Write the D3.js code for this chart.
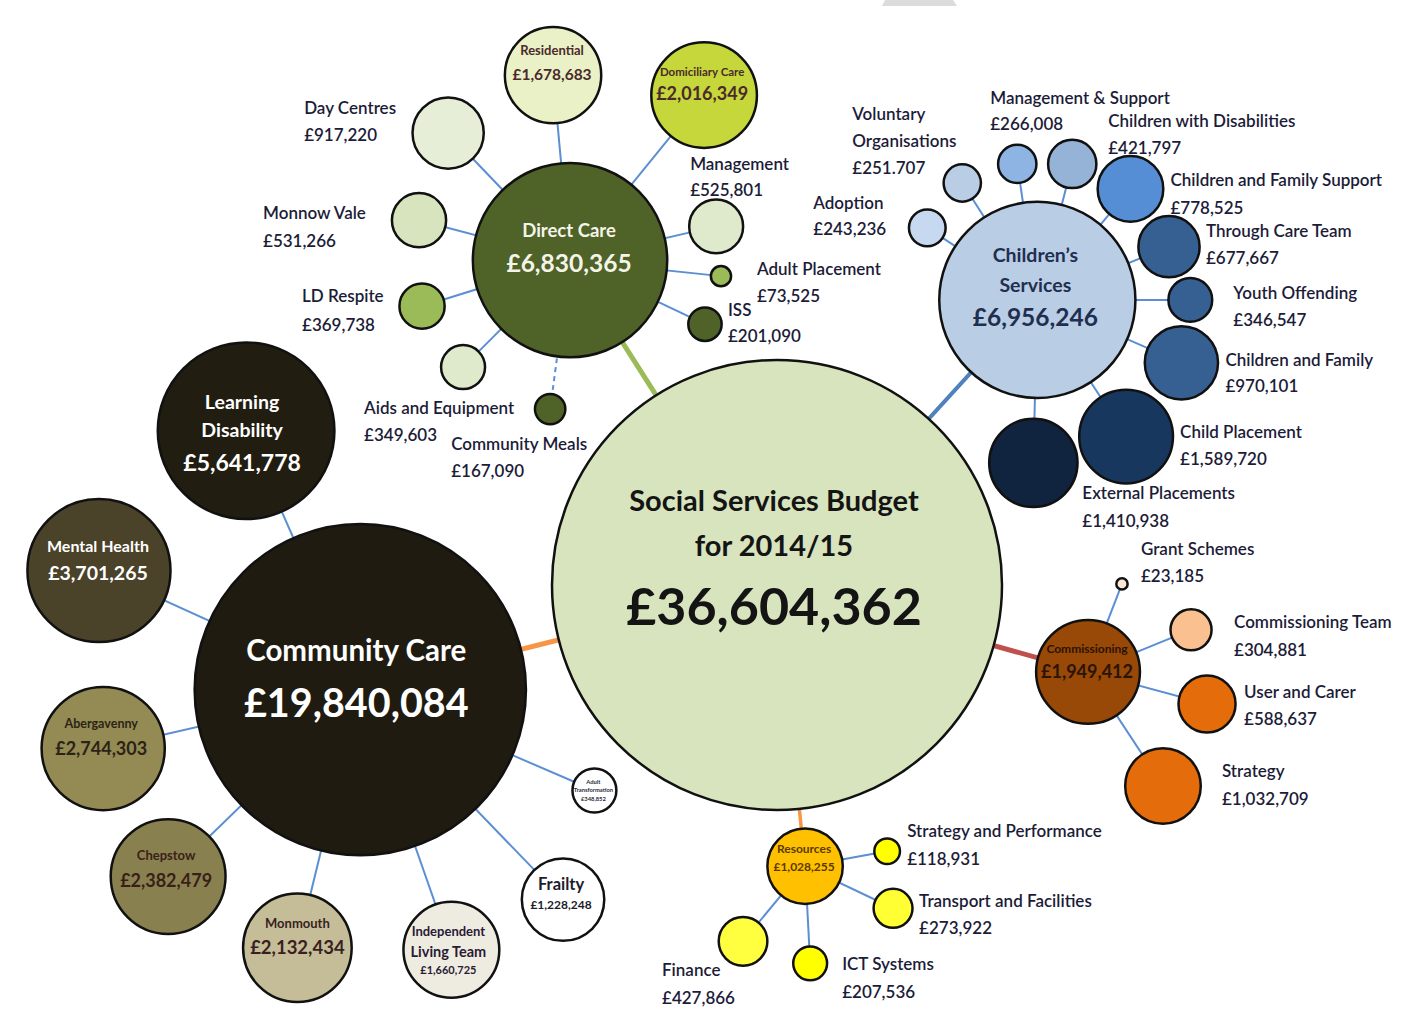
<!DOCTYPE html>
<html>
<head>
<meta charset="utf-8">
<script src="https://cdn.jsdelivr.net/npm/d3@7"></script>
<style>
  html, body { margin: 0; padding: 0; background: #fff; }
  svg { display: block; }
</style>
</head>
<body>
<svg id="chart" width="1404" height="1021"></svg>
<script>
// ---------------- Budget data (£, 2014/15) ----------------
const budgetTitle = "Social Services Budget for 2014/15";
const services = ["Community Care", "Direct Care", "Children’s Services", "Commissioning", "Resources"];

const communityCareTeams = ["Learning Disability", "Mental Health", "Abergavenny", "Chepstow", "Monmouth",
  "Independent Living Team", "Frailty", "Adult Transformation"];
const communityCareBudgets = [5641778, 3701265, 2744303, 2382479, 2132434, 1660725, 1228248, 348852];

const directCareTeams = ["Residential", "Domiciliary Care", "Day Centres", "Monnow Vale", "LD Respite",
  "Aids and Equipment", "Community Meals", "ISS", "Adult Placement", "Management"];
const directCareBudgets = [1678683, 2016349, 917220, 531266, 369738, 349603, 167090, 201090, 73525, 525801];

const childrensTeams = ["Adoption", "Voluntary Organisations", "Management & Support", "Children with Disabilities",
  "Children and Family Support", "Through Care Team", "Youth Offending", "Children and Family",
  "Child Placement", "External Placements"];
const childrensBudgets = [243236, 251707, 266008, 421797, 778525, 677667, 346547, 970101, 1589720, 1410938];

const commissioningTeams = ["Grant Schemes", "Commissioning Team", "User and Carer", "Strategy"];
const commissioningBudgets = [23185, 304881, 588637, 1032709];

const resourcesTeams = ["Strategy and Performance", "Transport and Facilities", "ICT Systems", "Finance"];
const resourcesBudgets = [118931, 273922, 207536, 427866];

// amount as it appears in the published sheet
const printedAmounts = { "Voluntary Organisations": "£251.707" };

// ---------------- Hierarchy ----------------
const teamLists = [communityCareTeams, directCareTeams, childrensTeams, commissioningTeams, resourcesTeams];
const budgetLists = [communityCareBudgets, directCareBudgets, childrensBudgets, commissioningBudgets, resourcesBudgets];

const root = d3.hierarchy({
  name: budgetTitle,
  children: services.map((s, i) => ({
    name: s,
    children: teamLists[i].map((t, j) => ({ name: t, value: budgetLists[i][j] }))
  }))
}).sum(d => d.value || 0);

// ---------------- Layout: bubble area ∝ budget ----------------
const W = 1404, H = 1021;
const hub = { x: 777, y: 585 };
const radius = d3.scaleSqrt().domain([0, root.value]).range([0, 225]);

// [direction from parent centre in degrees (clockwise from east), edge-to-edge gap]
const placement = {
  "Community Care": [165.9, 39], "Direct Care": [-122.5, 63], "Children’s Services": [-47.6, 63],
  "Commissioning": [15.6, 46], "Resources": [84.3, 20],

  "Learning Disability": [-113.8, 29], "Mental Health": [-155.5, 50], "Abergavenny": [167.1, 36.5],
  "Chepstow": [135.8, 45], "Monmouth": [103.7, 45.7], "Independent Living Team": [70.7, 62],
  "Frailty": [46.0, 85], "Adult Transformation": [23.3, 67.3],

  "Residential": [-95.25, 40.4], "Domiciliary Care": [-50.9, 62.6], "Day Centres": [-133.8, 43.3],
  "Monnow Vale": [-165.2, 31.9], "LD Respite": [162.7, 35.2], "Aids and Equipment": [135, 32.1],
  "Community Meals": [97.6, 37.9], "ISS": [25.4, 35.5], "Adult Placement": [6.05, 44.5], "Management": [-13, 25.8],

  "Adoption": [-146.8, 15.1], "Voluntary Organisations": [-122.7, 22.2], "Management & Support": [-98.4, 20.2],
  "Children with Disabilities": [-75.6, 18.1], "Children and Family Support": [-50, 14],
  "Through Care Team": [-22, 13.3], "Youth Offending": [0, 33], "Children and Family": [23.6, 22.5],
  "Child Placement": [57, 18], "External Placements": [91.4, 20.7],

  "Grant Schemes": [-68.9, 36.7], "Commissioning Team": [-22.2, 38.8], "User and Carer": [15.1, 42.8],
  "Strategy": [56.7, 46.8],

  "Strategy and Performance": [-10.4, 32.9], "Transport and Facilities": [25.5, 40.3],
  "ICT Systems": [87, 42.5], "Finance": [129.6, 35.3]
};

root.each(n => {
  n.r = radius(n.value);
  if (!n.parent) { n.x = hub.x; n.y = hub.y; return; }
  const [deg, gap] = placement[n.data.name];
  const a = deg * Math.PI / 180;
  const d = n.parent.r + gap + n.r;
  n.x = n.parent.x + d * Math.cos(a);
  n.y = n.parent.y + d * Math.sin(a);
});

// ---------------- Styles ----------------
const fills = {
  [budgetTitle]: "#d7e4bd",
  "Community Care": "#1f1b10", "Learning Disability": "#221d11", "Mental Health": "#4a4229",
  "Abergavenny": "#948a54", "Chepstow": "#898050", "Monmouth": "#c4bd97", "Independent Living Team": "#eeece1",
  "Frailty": "#ffffff", "Adult Transformation": "#ffffff",
  "Direct Care": "#4f6228", "Residential": "#ebf1c6", "Domiciliary Care": "#c6d73b", "Day Centres": "#e6eed8",
  "Monnow Vale": "#d7e4bd", "LD Respite": "#9bbb59", "Aids and Equipment": "#dfe9cc", "Community Meals": "#4f6228",
  "ISS": "#4f6228", "Adult Placement": "#9bbb59", "Management": "#dfe9cc",
  "Children’s Services": "#b9cde5", "Adoption": "#c6d9f1", "Voluntary Organisations": "#b9cde5",
  "Management & Support": "#8eb4e3", "Children with Disabilities": "#95b3d7", "Children and Family Support": "#558ed5",
  "Through Care Team": "#376092", "Youth Offending": "#376092", "Children and Family": "#376092",
  "Child Placement": "#17375e", "External Placements": "#10243f",
  "Commissioning": "#984807", "Grant Schemes": "#fde9d9", "Commissioning Team": "#fac090",
  "User and Carer": "#e46c0a", "Strategy": "#e46c0a",
  "Resources": "#ffc000", "Strategy and Performance": "#ffff00", "Transport and Facilities": "#ffff33",
  "ICT Systems": "#ffff00", "Finance": "#ffff40"
};

const serviceLink = {
  "Community Care": ["#f79646", 5], "Direct Care": ["#9bbb59", 5], "Children’s Services": ["#4f81bd", 4],
  "Commissioning": ["#c0504d", 5], "Resources": ["#f79646", 3.5]
};

// text drawn inside a bubble: words per line, font sizes, baseline offsets, colour
const inner = {
  [budgetTitle]: { split: [3, 2], size: [29, 29, 52], dy: [-74, -29, 40], dx: -3, ink: "#141414" },
  "Community Care": { size: [29.5, 39.5], dy: [-29, 27], dx: -4, ink: "#ffffff" },
  "Direct Care": { size: [18.5, 24.5], dy: [-23, 12], dx: -1, ink: "#f4f4e8" },
  "Children’s Services": { split: [1, 1], size: [19.5, 19.5, 24.5], dy: [-38, -8, 26], dx: -2, ink: "#1f2f4f" },
  "Learning Disability": { split: [1, 1], size: [19.5, 19.5, 23], dy: [-22, 6, 40], dx: -4, ink: "#ffffff" },
  "Mental Health": { size: [16, 19.5], dy: [-19, 9], dx: -1, ink: "#ffffff" },
  "Abergavenny": { size: [12.5, 18], dy: [-21, 6], dx: -2, ink: "#2b2414" },
  "Chepstow": { size: [13, 18], dy: [-17, 10], dx: -2, ink: "#3a1f18" },
  "Monmouth": { size: [13, 18.5], dy: [-20, 6], dx: 0, ink: "#3a1f22" },
  "Independent Living Team": { split: [1, 2], size: [13, 14.5, 11], dy: [-14, 7, 24], dx: -3, ink: "#2a1a34" },
  "Frailty": { size: [16.5, 12], dy: [-10, 9], dx: -2, ink: "#1c1c2c" },
  "Adult Transformation": { split: [1, 1], size: [5.8, 5.8, 5.8], dy: [-6, 2, 11], dx: -1, ink: "#2a2a3a" },
  "Residential": { size: [13, 15.5], dy: [-20, 5], dx: -1, ink: "#4a2a2a" },
  "Domiciliary Care": { size: [11.5, 18], dy: [-19, 5], dx: -2, ink: "#4a2a2a" },
  "Commissioning": { size: [12, 18], dy: [-19, 6], dx: -1, ink: "#2a1405" },
  "Resources": { size: [12, 12], dy: [-13, 5], dx: -1, ink: "#5a3a00" }
};

// labels set beside small bubbles: first baseline offset from the bubble centre, line spacing
const outer = {
  "Day Centres": { dx: -144, dy: -19, lh: 27 },
  "Monnow Vale": { dx: -156, dy: -1, lh: 28 },
  "LD Respite": { dx: -120, dy: -4, lh: 29 },
  "Aids and Equipment": { dx: -99, dy: 47, lh: 27 },
  "Community Meals": { dx: -99, dy: 41, lh: 27 },
  "ISS": { dx: 23, dy: -8, lh: 26 },
  "Adult Placement": { dx: 36, dy: -1, lh: 27 },
  "Management": { dx: -26, dy: -56, lh: 26 },
  "Adoption": { dx: -114, dy: -19, lh: 26 },
  "Voluntary Organisations": { split: [1, 1], dx: -110, dy: -63, lh: 27 },
  "Management & Support": { dx: -27, dy: -60, lh: 26 },
  "Children with Disabilities": { dx: 36, dy: -37, lh: 27 },
  "Children and Family Support": { dx: 40, dy: -3, lh: 28 },
  "Through Care Team": { dx: 37, dy: -10, lh: 27 },
  "Youth Offending": { dx: 43, dy: -1, lh: 27 },
  "Children and Family": { dx: 44, dy: 3, lh: 26 },
  "Child Placement": { dx: 54, dy: 1, lh: 27 },
  "External Placements": { dx: 49, dy: 36, lh: 28 },
  "Grant Schemes": { dx: 19, dy: -29, lh: 27 },
  "Commissioning Team": { dx: 43, dy: -2, lh: 28 },
  "User and Carer": { dx: 37, dy: -6, lh: 27 },
  "Strategy": { dx: 59, dy: -9, lh: 28 },
  "Strategy and Performance": { dx: 20, dy: -14, lh: 28 },
  "Transport and Facilities": { dx: 26, dy: -1, lh: 27 },
  "ICT Systems": { dx: 32, dy: 7, lh: 28 },
  "Finance": { dx: -81, dy: 35, lh: 28 }
};

const fmt = d3.format(",");
const amount = n => printedAmounts[n.data.name] || "£" + fmt(n.value);
function nameLines(name, split) {
  if (!split) return [name];
  const words = name.split(" ");
  const out = [];
  let i = 0;
  for (const k of split) { out.push(words.slice(i, i + k).join(" ")); i += k; }
  return out;
}

// ---------------- Drawing ----------------
const svg = d3.select("#chart");
svg.append("rect").attr("width", W).attr("height", H).attr("fill", "#fff");
svg.append("path").attr("d", "M885,0H953L957,6H882Z").attr("fill", "#dcdcdc");

const nodes = root.descendants();
const links = root.links();

svg.append("g").selectAll("line")
  .data(links)
  .join("line")
  .attr("x1", d => d.source.x).attr("y1", d => d.source.y)
  .attr("x2", d => d.target.x).attr("y2", d => d.target.y)
  .attr("stroke", d => d.source.depth === 0 ? serviceLink[d.target.data.name][0] : "#5b8fd4")
  .attr("stroke-width", d => d.source.depth === 0 ? serviceLink[d.target.data.name][1] : 2)
  .attr("stroke-dasharray", d => d.target.data.name === "Community Meals" ? "5 4" : null);

svg.append("g").selectAll("circle")
  .data(nodes)
  .join("circle")
  .attr("cx", d => d.x).attr("cy", d => d.y).attr("r", d => d.r)
  .attr("fill", d => fills[d.data.name])
  .attr("stroke", "#111")
  .attr("stroke-width", 2.5);

// text inside bubbles
const innerG = svg.append("g").attr("font-family", "Lato, 'Open Sans', sans-serif").attr("font-weight", 700)
  .attr("text-anchor", "middle");
nodes.filter(n => inner[n.data.name]).forEach(n => {
  const s = inner[n.data.name];
  const lines = nameLines(n.data.name, s.split).concat([amount(n)]);
  lines.forEach((t, i) => {
    innerG.append("text")
      .attr("x", n.x + (s.dx || 0))
      .attr("y", n.y + s.dy[i])
      .attr("font-size", s.size[i])
      .attr("fill", s.ink)
      .text(t);
  });
});

// labels beside bubbles
const outerG = svg.append("g").attr("font-family", "Lato, 'Open Sans', sans-serif")
  .attr("font-size", 17).attr("font-weight", 600).attr("fill", "#1c1c38");
nodes.filter(n => outer[n.data.name]).forEach(n => {
  const s = outer[n.data.name];
  const lines = nameLines(n.data.name, s.split).concat([amount(n)]);
  lines.forEach((t, i) => {
    outerG.append("text")
      .attr("x", n.x + s.dx)
      .attr("y", n.y + s.dy + i * s.lh)
      .text(t);
  });
});
</script>
</body>
</html>
